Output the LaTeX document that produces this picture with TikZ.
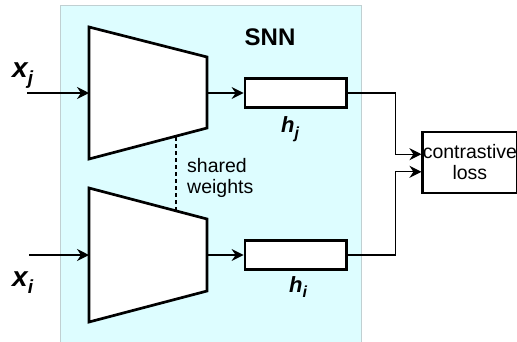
\documentclass[tikz,border=0pt]{standalone}
\usepackage{fontspec}
\setmainfont{Liberation Sans}
\usetikzlibrary{arrows.meta}
\definecolor{bgcyan}{RGB}{221,253,255}
\definecolor{bgborder}{RGB}{192,208,210}
\begin{document}
\begin{tikzpicture}[x=1pt,y=-1pt,
  arr/.style={-{Stealth[length=12pt,width=12pt,inset=4pt]}, line width=1.2pt},
  encoder/.style={draw, fill=white, line width=2.7pt, line join=miter},
  vecbox/.style={draw, fill=white, line width=2.7pt, minimum width=101.5pt, minimum height=28.5pt, inner sep=0pt},
  lossbox/.style={draw, fill=white, line width=2.7pt, minimum width=92.3pt, minimum height=61pt, inner sep=0pt, align=center, font=\fontsize{19.5}{22}\selectfont},
  lbl/.style={inner sep=0pt, font=\fontsize{19.5}{21}\selectfont},
  varlbl/.style={inner sep=0pt, font=\fontsize{28}{28}\bfseries\itshape},
  veclbl/.style={inner sep=0pt, font=\fontsize{22}{22}\bfseries\itshape},
  ]
\clip (0,0) rectangle (517,341);
% background panel
\draw[fill=bgcyan, draw=bgborder, line width=1pt] (60,5) rectangle (361,350);
% shared weights dashed line
\coordinate (dtop) at (176,137);
\coordinate (dbot) at (176,210);
\draw[line width=1.2pt, dash pattern=on 4pt off 3pt] (dtop) -- (dbot);
% encoders
\draw[encoder] (89,27) -- (207,57) -- (207,128) -- (89,159) -- cycle;
\draw[encoder] (89,188) -- (207,219) -- (207,291) -- (89,322) -- cycle;
\coordinate (encjin) at (89,93);
\coordinate (encjout) at (207,93);
\coordinate (enciin) at (89,255);
\coordinate (encIout) at (207,255);
\coordinate (xjstart) at (27,93);
\coordinate (xistart) at (29,255);
% vectors
\node[vecbox] (hj) at (295.7,93) {};
\node[vecbox] (hi) at (295.7,255) {};
\node[lossbox] (loss) at (469.9,162.5) {contrastive\\[-1pt]loss};
% connectors
\draw[arr] (xjstart) -- (encjin);
\draw[arr] (xistart) -- (enciin);
\draw[arr] (encjout) -- (hj.west);
\draw[arr] (encIout) -- (hi.west);
\draw[arr] (hj.east) -- (395.7,93) |- ([yshift=8.3pt]loss.west);
\draw[arr] (hi.east) -- (395.7,255) |- ([yshift=-9.3pt]loss.west);
% labels
\node[font=\fontsize{24}{24}\bfseries, inner sep=0pt] (snn) at (270,37.5) {SNN};
\node[lbl, anchor=north west, align=left] (shared) at (187,158) {shared\\weights};
\node[varlbl, anchor=base west] (xj) at (12,77) {x\raisebox{-0.28em}{\fontsize{19}{19}\selectfont j}};
\node[varlbl, anchor=base west] (xi) at (12,286) {x\raisebox{-0.28em}{\fontsize{19}{19}\selectfont i}};
\node[veclbl, anchor=base west] (hjl) at (281,132.5) {h\raisebox{-0.25em}{\fontsize{16}{16}\selectfont j}};
\node[veclbl, anchor=base west] (hil) at (289,292) {h\raisebox{-0.25em}{\fontsize{16}{16}\selectfont i}};
\end{tikzpicture}
\end{document}
